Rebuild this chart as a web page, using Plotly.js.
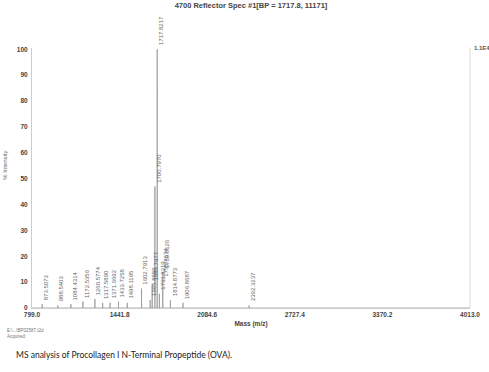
<!DOCTYPE html>
<html>
<head>
<meta charset="utf-8">
<script src="https://cdn.plot.ly/plotly-3.0.1.min.js"></script>
<style>html,body{margin:0;padding:0;background:#fff;}#chart{width:489px;height:372px;}</style>
</head>
<body>
<div id="chart"></div>
<script>
// Peak list (m/z, % intensity)
var peakMasses = [873.5073, 988.5403, 1084.4314, 1172.5356, 1260.5774, 1317.5890, 1371.6692, 1433.7258, 1498.1195, 1602.7913, 1665.8880, 1680.7977, 1700.7970, 1717.8217, 1733.8219, 1755.7674, 1759.8126, 1814.8773, 1906.8687, 2392.3237];
var peakIntensity = [1.5, 1.0, 1.5, 2.5, 3.5, 2.0, 2.0, 2.5, 2.0, 7.5, 3.0, 9.0, 47, 100, 5.5, 10.5, 14, 3.0, 2.0, 1.0];
var xTickVals = [799.0, 1441.8, 2084.6, 2727.4, 3370.2, 4013.0];
var xTickText = ["799.0", "1441.8", "2084.6", "2727.4", "3370.2", "4013.0"];
var yTickVals = [0, 10, 20, 30, 40, 50, 60, 70, 80, 90, 100];
var titleText = "4700 Reflector Spec #1[BP = 1717.8, 11171]";
var captionText = "MS analysis of Procollagen I N-Terminal Propeptide (OVA).";

// Stick spectrum built from the peak list
var sx = [], sy = [];
sx.push(xTickVals[0]); sy.push(0);
for (var i = 0; i < peakMasses.length; i++) {
  sx.push(peakMasses[i] - 0.3, peakMasses[i], peakMasses[i] + 0.3);
  sy.push(0, peakIntensity[i], 0);
}
sx.push(xTickVals[xTickVals.length - 1]); sy.push(0);

var trace = {
  x: sx, y: sy, type: 'scatter', mode: 'lines',
  line: {color: '#999', width: 0.8}, hoverinfo: 'skip', showlegend: false
};

var annotations = [];
for (var j = 0; j < peakMasses.length; j++) {
  annotations.push({
    x: peakMasses[j], y: peakIntensity[j], xref: 'x', yref: 'y',
    text: peakMasses[j].toFixed(4), textangle: -90, showarrow: false,
    xanchor: 'center', yanchor: 'bottom', xshift: 4, yshift: 2,
    font: {family: 'Liberation Sans, Arial, sans-serif', size: 6, color: '#666'}
  });
}
annotations.push({
  xref: 'paper', yref: 'paper', x: 1.005, y: 1.0, xanchor: 'left', yanchor: 'middle',
  text: '1.1E4', showarrow: false,
  font: {family: 'Liberation Sans, Arial, sans-serif', size: 6, color: '#555', weight: 'bold'}
});
annotations.push({
  xref: 'paper', yref: 'paper', x: -0.062, y: 0.55, xanchor: 'center', yanchor: 'middle',
  text: '% Intensity', textangle: -90, showarrow: false,
  font: {family: 'Liberation Sans, Arial, sans-serif', size: 6, color: '#666'}
});
annotations.push({
  xref: 'paper', yref: 'paper', x: -0.062, y: -0.068, xanchor: 'left', yanchor: 'top',
  text: 'E:\\...\\BP02587.t2d<br>Acquired:', showarrow: false, align: 'left',
  font: {family: 'Liberation Sans, Arial, sans-serif', size: 4.5, color: '#777'}
});
annotations.push({
  xref: 'paper', yref: 'paper', x: -0.041, y: -0.181, xanchor: 'left', yanchor: 'middle',
  text: captionText, showarrow: false,
  font: {family: 'Lato, Liberation Sans, sans-serif', size: 8.5, color: '#222'}
});

var axisFont = {family: 'Liberation Sans, Arial, sans-serif', size: 6.5, color: '#444', weight: 'bold'};

var layout = {
  width: 489, height: 372,
  margin: {l: 32, r: 19, t: 48, b: 64},
  paper_bgcolor: '#fff', plot_bgcolor: '#fff',
  title: {text: titleText, x: 0.5, xref: 'paper', xanchor: 'center', y: 0.992, yanchor: 'top',
          font: {family: 'Liberation Sans, Arial, sans-serif', size: 7.5, color: '#444', weight: 'bold'}},
  xaxis: {
    range: [799.0, 4013.0], tickvals: xTickVals, ticktext: xTickText,
    showgrid: false, zeroline: false, showline: true, linecolor: '#ccc', linewidth: 1,
    ticks: '', tickfont: axisFont, mirror: false,
    title: {text: 'Mass (m/z)', standoff: 4, font: {family: 'Liberation Sans, Arial, sans-serif', size: 6.5, color: '#444', weight: 'bold'}}
  },
  yaxis: {
    range: [0, 100.5], tickvals: yTickVals,
    showgrid: false, zeroline: false, showline: true, linecolor: '#ccc', linewidth: 1,
    ticks: 'outside', ticklen: 2, tickcolor: '#fff', tickfont: axisFont
  },
  shapes: [{type: 'line', xref: 'paper', yref: 'paper', x0: 1, x1: 1, y0: 0, y1: 1.0,
            line: {color: '#ddd', width: 1}}],
  annotations: annotations
};

Plotly.newPlot('chart', [trace], layout, {displayModeBar: false, staticPlot: true});
</script>
</body>
</html>
